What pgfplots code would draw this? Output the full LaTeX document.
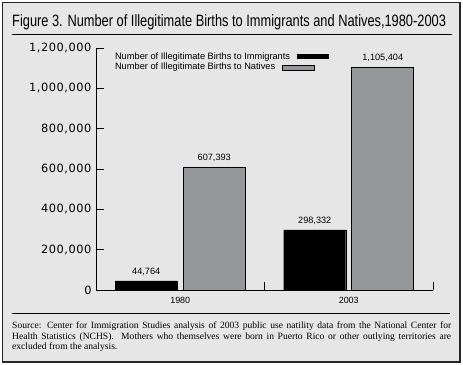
\documentclass[border=0pt]{standalone}
\usepackage{pgfplots}
\pgfplotsset{compat=1.18}
\usepackage{fontspec}
\setmainfont{Liberation Sans}
\newfontfamily\titlefont[FakeStretch=0.78]{Liberation Sans}
\newfontfamily\tickfont[LetterSpace=5]{DejaVu Sans}
\newfontfamily\notefont{Liberation Serif}
\definecolor{bg}{HTML}{E6E6E6}
\definecolor{natgray}{HTML}{96979B}
\begin{document}
\begin{tikzpicture}
\useasboundingbox (0bp,0bp) rectangle (463bp,365bp);
\fill[white] (0bp,0bp) rectangle (463bp,365bp);
\draw[line width=1.5bp, fill=bg, draw=black!85] (2.5bp,3bp) rectangle (460bp,362.5bp);
\node[anchor=base west, inner sep=0pt, font=\titlefont\fontsize{16.5}{18}\selectfont] at (12bp,338bp) {Figure 3. Number of Illegitimate Births to Immigrants and Natives,1980-2003};
\draw[line width=1bp] (12bp,330bp) -- (452bp,330bp);
\draw[line width=1bp] (12bp,51bp) -- (450bp,51bp);
\node[anchor=north west, inner sep=0pt, text width=439bp, align=justify, font=\notefont\fontsize{9.6}{10.2}\selectfont] at (12bp,43bp) {Source: Center for Immigration Studies analysis of 2003 public use natility data from the National Center for\linebreak Health Statistics (NCHS).\ \ Mothers who themselves were born in Puerto Rico or other outlying territories are\linebreak excluded from the analysis.};
\begin{axis}[
  at={(96bp,75bp)}, anchor=south west, scale only axis,
  width=337bp, height=242bp,
  xmin=0, xmax=2, ymin=0, ymax=1200000,
  axis x line*=bottom, axis y line*=left,
  axis line style={line width=0.9bp, -},
  tick align=inside, major tick length=8bp,
  tick style={line width=0.9bp, black},
  xtick={0,1,2}, xticklabels={},
  extra x ticks={0.5,1.5}, extra x tick labels={1980,2003},
  extra x tick style={major tick length=0pt},
  xticklabel style={font=\fontsize{9}{10}\selectfont, yshift=-4bp},
  ytick={0,200000,400000,600000,800000,1000000,1200000},
  scaled y ticks=false,
  /pgf/number format/assume math mode=true,
  yticklabel style={/pgf/number format/fixed, /pgf/number format/1000 sep={,}, font=\tickfont\fontsize{11.4}{12}\selectfont, xshift=-1bp},
  clip=false,
  point meta=explicit symbolic,
  nodes near coords,
  every node near coord/.append style={font=\fontsize{9.2}{10}\selectfont, yshift=2bp},
  legend plot pos=none,
  legend cell align=left,
  legend style={draw=none, fill=none, inner sep=0pt, at={(axis description cs:0.053,0.985)}, anchor=north west, nodes={inner sep=1bp, anchor=west}, row sep=0pt, font=\fontsize{9.3}{10}\selectfont},
]
\addplot[ybar, bar width=62bp, bar shift=0pt, fill=black, draw=black] coordinates {(0.2982,44764) [44,764] (1.2982,298332) [298,332]};
\addlegendentry{Number of Illegitimate Births to Immigrants\hspace{7bp}\rule[0.5bp]{32bp}{5bp}}
\addplot[ybar, bar width=62bp, bar shift=0pt, fill=natgray, draw=black, line width=0.9bp] coordinates {(0.7018,607393) [607,393] (1.7018,1105404) [1,105,404]};
\addlegendentry{Number of Illegitimate Births to Natives\hspace{7bp}{\setlength{\fboxsep}{0pt}\setlength{\fboxrule}{0.8bp}\fcolorbox{black}{natgray}{\rule{0pt}{4bp}\rule{31bp}{0pt}}}}
\end{axis}
\end{tikzpicture}
\end{document}
